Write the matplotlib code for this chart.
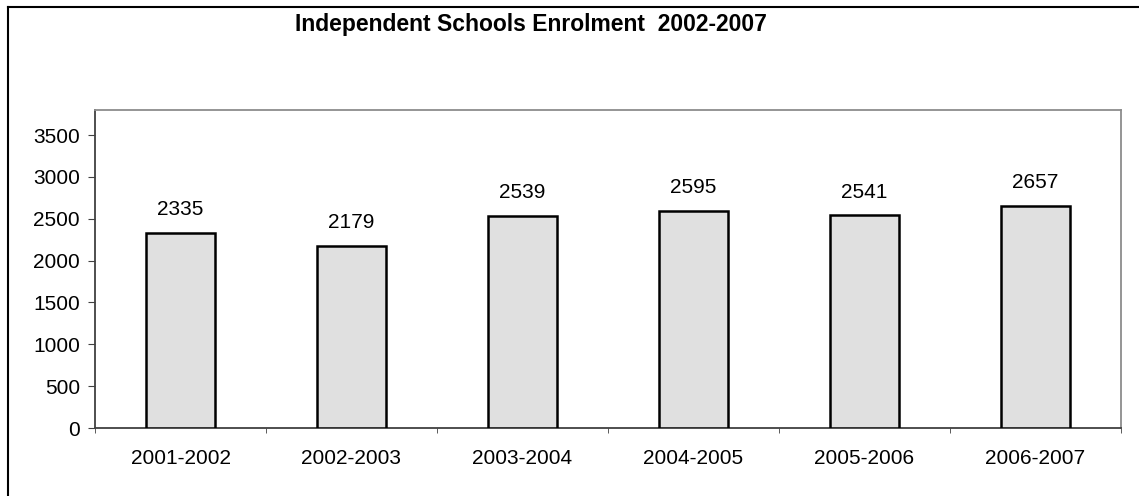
import matplotlib
matplotlib.use("Agg")
import matplotlib.pyplot as plt
from matplotlib.lines import Line2D

categories = ["2001-2002", "2002-2003", "2003-2004", "2004-2005", "2005-2006", "2006-2007"]
values = [2335, 2179, 2539, 2595, 2541, 2657]
yticks = [0, 500, 1000, 1500, 2000, 2500, 3000, 3500]
title = "Independent Schools Enrolment  2002-2007"

plt.rcParams['font.family'] = ['Liberation Sans', 'DejaVu Sans']

W, H = 1139, 496
fig = plt.figure(figsize=(W / 100, H / 100), dpi=100)

# figure border (only top and left visible)
fig.add_artist(Line2D([8 / W, 8 / W], [0, 1 - 7 / H], transform=fig.transFigure, color='black', lw=1.5))
fig.add_artist(Line2D([8 / W, 1], [1 - 7 / H, 1 - 7 / H], transform=fig.transFigure, color='black', lw=1.5))

left, right, top, bottom = 95, 1121, 110, 428
ax = fig.add_axes([left / W, 1 - bottom / H, (right - left) / W, (bottom - top) / H])

x = list(range(len(categories)))
ax.bar(x, values, width=0.40, color='#e0e0e0', edgecolor='black', linewidth=1.8, zorder=3)

for xi, v in zip(x, values):
    ax.annotate(str(v), (xi, v), xytext=(0, 16.5), textcoords='offset points',
                ha='center', va='center', fontsize=15)

ax.set_xlim(-0.5, len(categories) - 0.5)
ax.set_ylim(0, 3800)
ax.set_yticks(yticks)
ax.set_yticklabels([str(t) for t in yticks], fontsize=15)
ax.set_xticks(x)
ax.set_xticklabels(categories, fontsize=15)
ax.tick_params(axis='x', which='major', length=0, pad=15)
ax.set_xticks([i - 0.5 for i in range(len(categories) + 1)], minor=True)
ax.tick_params(axis='x', which='minor', length=3.6, direction='out', color='#404040')
ax.tick_params(axis='y', length=5, direction='out', color='#404040', pad=5.8)

for s in ['top', 'right']:
    ax.spines[s].set_color('#8c8c8c')
    ax.spines[s].set_linewidth(1.3)
for s in ['left', 'bottom']:
    ax.spines[s].set_color('#404040')
    ax.spines[s].set_linewidth(1.3)

fig.text(531 / W, 1 - 24 / H, title, ha='center', va='center', fontsize=16.5, fontweight='bold')

fig.savefig("out.png", dpi=100)
